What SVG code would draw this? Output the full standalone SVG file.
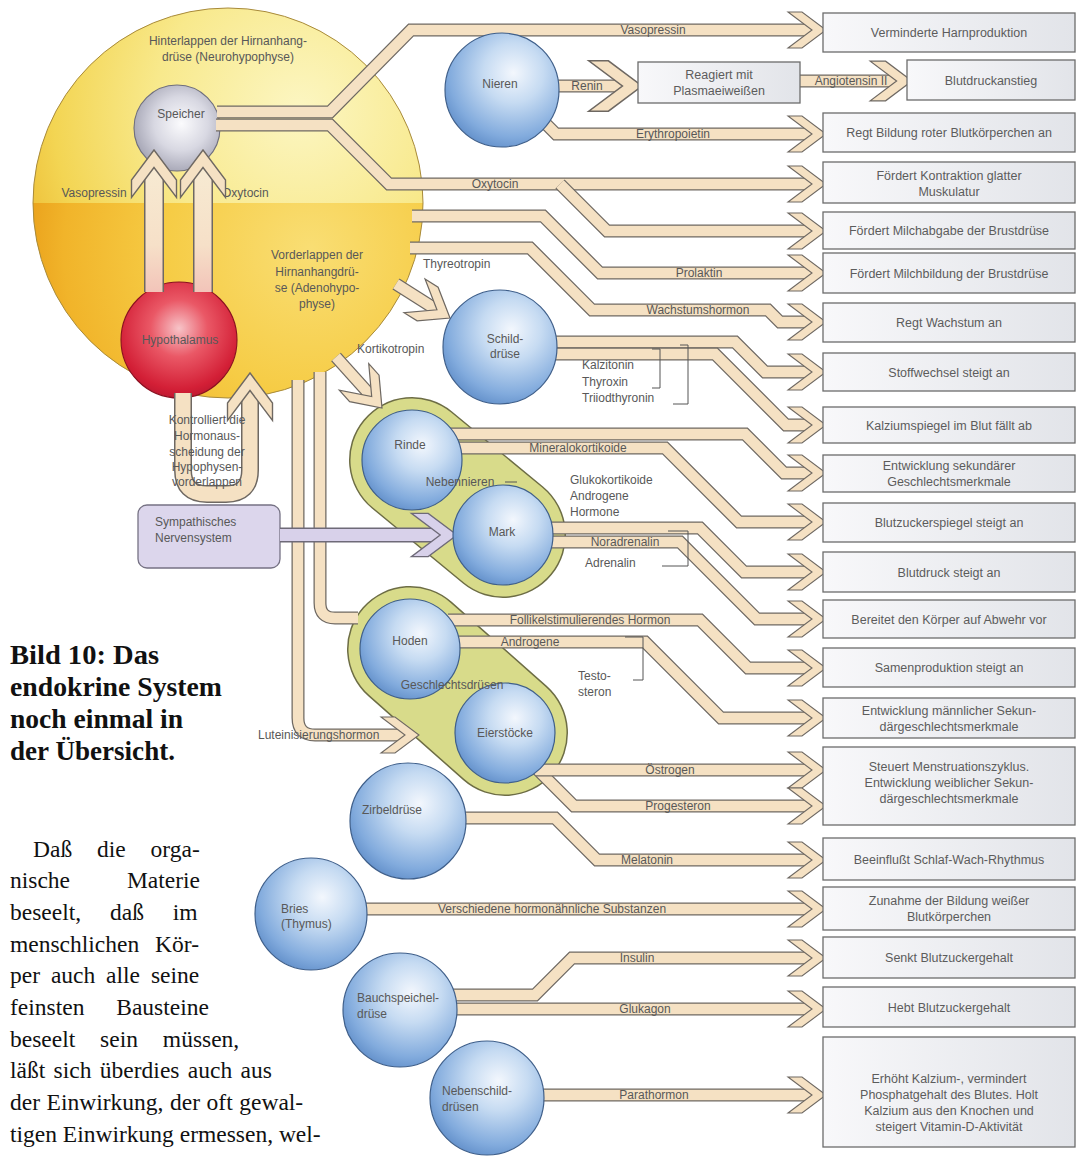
<svg xmlns="http://www.w3.org/2000/svg" width="1087" height="1158" viewBox="0 0 1087 1158">
<style>
.bo{fill:none;stroke:#6e6862;stroke-width:13}
.bi{fill:none;stroke:#f5e1c3;stroke-width:10.5}
.bo2{fill:none;stroke:#6e6862;stroke-width:20}
.bi2{fill:none;stroke:url(#gpink);stroke-width:17}
.bo3{fill:none;stroke:#6e6862;stroke-width:18}
.bi3{fill:none;stroke:#f5e1c3;stroke-width:15}
.ch{fill:#f5e1c3;stroke:#6e6862;stroke-width:1.1}
.chl{fill:#d8d1ea;stroke:#6e6a78;stroke-width:1.1}
.lb{font-family:"Liberation Sans",Arial,sans-serif;font-size:12px;fill:#585858}
.mid{text-anchor:middle}
.bt{font-family:"Liberation Sans",Arial,sans-serif;font-size:12.5px;fill:#5c5c5c;text-anchor:middle}
.box{fill:url(#gbox);stroke:#6c6c6c;stroke-width:1.3}
.sph{fill:url(#gblue);stroke:#3f5f8a;stroke-width:1.2}
.br{fill:none;stroke:#555;stroke-width:1}
.title{font-family:"Liberation Serif","Times New Roman",serif;font-weight:bold;font-size:27px;fill:#111}
.body{font-family:"Liberation Serif","Times New Roman",serif;font-size:23.5px;fill:#111}
</style>
<defs>
<radialGradient id="gyTop" gradientUnits="userSpaceOnUse" cx="300" cy="110" r="290">
<stop offset="0" stop-color="#fcf6c2"/><stop offset="0.5" stop-color="#f8e98c"/><stop offset="0.85" stop-color="#f3d553"/><stop offset="1" stop-color="#eec13a"/>
</radialGradient>
<radialGradient id="gyBot" gradientUnits="userSpaceOnUse" cx="310" cy="250" r="290">
<stop offset="0" stop-color="#f9de74"/><stop offset="0.5" stop-color="#f6cc45"/><stop offset="0.85" stop-color="#f1b42a"/><stop offset="1" stop-color="#e99f1a"/>
</radialGradient>
<radialGradient id="gblue" cx="0.6" cy="0.35" r="0.75">
<stop offset="0" stop-color="#f3f7fd"/><stop offset="0.35" stop-color="#c6dbf2"/><stop offset="0.75" stop-color="#82abdd"/><stop offset="1" stop-color="#5584c2"/>
</radialGradient>
<radialGradient id="ggrey" cx="0.55" cy="0.45" r="0.7">
<stop offset="0" stop-color="#fbfbfd"/><stop offset="0.45" stop-color="#d8d8e2"/><stop offset="1" stop-color="#8e8ea0"/>
</radialGradient>
<radialGradient id="gred" cx="0.5" cy="0.4" r="0.7">
<stop offset="0" stop-color="#f7c4c8"/><stop offset="0.35" stop-color="#ea5866"/><stop offset="0.75" stop-color="#d31f36"/><stop offset="1" stop-color="#a8102a"/>
</radialGradient>
<linearGradient id="gbox" x1="0" y1="0" x2="1" y2="0">
<stop offset="0" stop-color="#f8f8fa"/><stop offset="1" stop-color="#e2e4e9"/>
</linearGradient>
<linearGradient id="gpink" gradientUnits="userSpaceOnUse" x1="0" y1="170" x2="0" y2="295">
<stop offset="0" stop-color="#f7ead2"/><stop offset="0.6" stop-color="#f6e0c8"/><stop offset="1" stop-color="#f2c2b8"/>
</linearGradient>
<path id="chev" d="M-38,-18 L-24,-18 L0,0 L-24,18 L-38,18 L-14,0 Z"/>
<path id="p-vaso" d="M217,112 H330 L411,30 H812"/>
<path id="p-oxy" d="M216,125 H330 L389,184 H812"/>
<path id="p-oxy2" d="M560,184 L607,231 H812"/>
<path id="p-renin" d="M552,86 H624"/>
<path id="p-angio" d="M800,81 H897"/>
<path id="p-ery" d="M540,118 L556,134 H812"/>
<path id="p-prl" d="M412,216 H543 L600,273 H812"/>
<path id="p-gh" d="M410,248 H530 L592,310 H768 L780,322 H812"/>
<path id="p-tsh" d="M396,284 L437,310"/>
<path id="p-acth" d="M336,357 L372,397"/>
<path id="p-lh" d="M298,380 V718 Q298,735 315,735 H404"/>
<path id="p-fsh1" d="M320,372 V603 Q320,618 335,618 H358"/>
<path id="p-fsh2" d="M448,620 H700 L748,668 H812"/>
<path id="p-andro" d="M450,642 H645 L721,718 H812"/>
<path id="p-ts1" d="M550,342 H735 L765,372 H812"/>
<path id="p-ts2" d="M550,354 H715 L786,425 H812"/>
<path id="p-r1" d="M450,434 H745 L784,473 H812"/>
<path id="p-r2" d="M452,448 H665 L739,522 H812"/>
<path id="p-m1" d="M545,528 H700 L744,572 H812"/>
<path id="p-m2" d="M545,542 H680 L757,619 H812"/>
<path id="p-prog" d="M530,762 L574,806 H812"/>
<path id="p-oest" d="M536,770 H812"/>
<path id="p-mel" d="M455,818 H555 L597,860 H812"/>
<path id="p-bries" d="M355,909 H812"/>
<path id="p-ins" d="M448,995 H535 L572,958 H812"/>
<path id="p-glu" d="M450,1009 H812"/>
<path id="p-pth" d="M535,1095 H812"/>
<path id="p-loop" d="M183,393 V470 Q183,494 207,494 H226 Q250,494 250,470 V391"/>
<path id="p-up1" d="M154,292 V168"/>
<path id="p-up2" d="M203,292 V168"/>
</defs>

<rect x="0" y="0" width="1087" height="1158" fill="#ffffff"/>

<g id="hypophyse">
<path d="M33,203 A195,195 0 0 1 423,203 Z" fill="url(#gyTop)"/>
<path d="M33,203 A195,195 0 0 0 423,203 Z" fill="url(#gyBot)"/>
<circle cx="228" cy="203" r="195" fill="none" stroke="#a88a3a" stroke-width="1"/>
<text class="lb mid" x="228" y="45">Hinterlappen der Hirnanhang-</text>
<text class="lb mid" x="228" y="61">drüse (Neurohypophyse)</text>
<text class="lb mid" x="317" y="259">Vorderlappen der</text>
<text class="lb mid" x="317" y="276">Hirnanhangdrü-</text>
<text class="lb mid" x="317" y="292">se (Adenohypo-</text>
<text class="lb mid" x="317" y="308">physe)</text>
<text class="lb mid" x="94" y="197">Vasopressin</text>
<text class="lb" x="222" y="197">Oxytocin</text>
</g>

<g id="speicher">
<circle cx="177" cy="128" r="43" fill="url(#ggrey)" stroke="#6e6e7e" stroke-width="1.1"/>
<text class="lb mid" x="181" y="118">Speicher</text>
</g>

<g id="hypothalamus">
<circle cx="179" cy="340" r="58" fill="url(#gred)" stroke="#8a1020" stroke-width="1.1"/>
<text class="lb mid" x="180" y="344">Hypothalamus</text>
</g>

<g id="nebennieren-kapsel">
<line x1="412" y1="460" x2="503" y2="535" stroke="#6d6d45" stroke-width="126" stroke-linecap="round"/>
<line x1="412" y1="460" x2="503" y2="535" stroke="#d8db8a" stroke-width="123" stroke-linecap="round"/>
</g>

<g id="geschlechtsdruesen-kapsel">
<line x1="410" y1="649" x2="505" y2="733" stroke="#6d6d45" stroke-width="126" stroke-linecap="round"/>
<line x1="410" y1="649" x2="505" y2="733" stroke="#d8db8a" stroke-width="123" stroke-linecap="round"/>
</g>

<g id="sympathikus">
<rect x="138" y="505" width="142" height="63" rx="9" fill="#dcd6ec" stroke="#767284" stroke-width="1.3"/>
<text class="lb" x="155" y="526">Sympathisches</text>
<text class="lb" x="155" y="542">Nervensystem</text>
</g>

<g id="connectors">
<use href="#p-vaso" class="bo"/><use href="#p-vaso" class="bi"/>
<use href="#p-oxy" class="bo"/><use href="#p-oxy" class="bi"/>
<use href="#p-oxy2" class="bo"/><use href="#p-oxy2" class="bi"/>
<use href="#p-renin" class="bo"/><use href="#p-renin" class="bi"/>
<use href="#p-angio" class="bo"/><use href="#p-angio" class="bi"/>
<use href="#p-ery" class="bo"/><use href="#p-ery" class="bi"/>
<use href="#p-prl" class="bo"/><use href="#p-prl" class="bi"/>
<use href="#p-gh" class="bo"/><use href="#p-gh" class="bi"/>
<use href="#p-tsh" class="bo"/><use href="#p-tsh" class="bi"/>
<use href="#p-acth" class="bo"/><use href="#p-acth" class="bi"/>
<use href="#p-lh" class="bo"/><use href="#p-lh" class="bi"/>
<use href="#p-fsh1" class="bo"/><use href="#p-fsh1" class="bi"/>
<use href="#p-ts1" class="bo"/><use href="#p-ts1" class="bi"/>
<use href="#p-ts2" class="bo"/><use href="#p-ts2" class="bi"/>
<use href="#p-r1" class="bo"/><use href="#p-r1" class="bi"/>
<use href="#p-r2" class="bo"/><use href="#p-r2" class="bi"/>
<use href="#p-m1" class="bo"/><use href="#p-m1" class="bi"/>
<use href="#p-m2" class="bo"/><use href="#p-m2" class="bi"/>
<use href="#p-fsh2" class="bo"/><use href="#p-fsh2" class="bi"/>
<use href="#p-andro" class="bo"/><use href="#p-andro" class="bi"/>
<use href="#p-prog" class="bo"/><use href="#p-prog" class="bi"/>
<use href="#p-oest" class="bo"/><use href="#p-oest" class="bi"/>
<use href="#p-mel" class="bo"/><use href="#p-mel" class="bi"/>
<use href="#p-bries" class="bo"/><use href="#p-bries" class="bi"/>
<use href="#p-ins" class="bo"/><use href="#p-ins" class="bi"/>
<use href="#p-glu" class="bo"/><use href="#p-glu" class="bi"/>
<use href="#p-pth" class="bo"/><use href="#p-pth" class="bi"/>
<use href="#p-loop" class="bo3"/><use href="#p-loop" class="bi3"/>
<use href="#p-up1" class="bo2"/><use href="#p-up1" class="bi2"/>
<use href="#p-up2" class="bo2"/><use href="#p-up2" class="bi2"/>
<path d="M280,535 H441" fill="none" stroke="#6e6a78" stroke-width="15"/>
<path d="M280,535 H441" fill="none" stroke="#d8d1ea" stroke-width="12"/>

<use href="#chev" class="ch" transform="translate(826,30)"/>
<use href="#chev" class="ch" transform="translate(826,134)"/>
<use href="#chev" class="ch" transform="translate(826,184)"/>
<use href="#chev" class="ch" transform="translate(826,231)"/>
<use href="#chev" class="ch" transform="translate(826,273)"/>
<use href="#chev" class="ch" transform="translate(826,322)"/>
<use href="#chev" class="ch" transform="translate(826,372)"/>
<use href="#chev" class="ch" transform="translate(826,425)"/>
<use href="#chev" class="ch" transform="translate(826,473)"/>
<use href="#chev" class="ch" transform="translate(826,522)"/>
<use href="#chev" class="ch" transform="translate(826,572)"/>
<use href="#chev" class="ch" transform="translate(826,619)"/>
<use href="#chev" class="ch" transform="translate(826,668)"/>
<use href="#chev" class="ch" transform="translate(826,718)"/>
<use href="#chev" class="ch" transform="translate(826,770)"/>
<use href="#chev" class="ch" transform="translate(826,806)"/>
<use href="#chev" class="ch" transform="translate(826,860)"/>
<use href="#chev" class="ch" transform="translate(826,909)"/>
<use href="#chev" class="ch" transform="translate(826,958)"/>
<use href="#chev" class="ch" transform="translate(826,1009)"/>
<use href="#chev" class="ch" transform="translate(826,1095)"/>
<use href="#chev" class="ch" transform="translate(642,86) scale(1.4)"/>
<use href="#chev" class="ch" transform="translate(912,81) scale(1.1)"/>
<use href="#chev" class="ch" transform="translate(450,318) rotate(32) scale(1.1)"/>
<use href="#chev" class="ch" transform="translate(382,408) rotate(48) scale(1.1)"/>
<use href="#chev" class="ch" transform="translate(419,735)"/>
<use href="#chev" class="chl" transform="translate(457,535) scale(1.2)"/>
<use href="#chev" class="ch" transform="translate(250,373) rotate(-90) scale(1.25)"/>
<use href="#chev" class="ch" transform="translate(154,150) rotate(-90) scale(1.25)"/>
<use href="#chev" class="ch" transform="translate(203,150) rotate(-90) scale(1.25)"/>

<path class="br" d="M652,349 H660 V388 H652"/>
<path class="br" d="M680,345 H688 V404 H673"/>
<path class="br" d="M668,531 H688 V566 H662"/>
<path class="br" d="M625,637 H643 V680 H633"/>

<text class="lb mid" x="653" y="34">Vasopressin</text>
<text class="lb mid" x="587" y="90">Renin</text>
<text class="lb mid" x="851" y="85">Angiotensin II</text>
<text class="lb mid" x="673" y="138">Erythropoietin</text>
<text class="lb mid" x="495" y="188">Oxytocin</text>
<text class="lb mid" x="699" y="277">Prolaktin</text>
<text class="lb mid" x="698" y="314">Wachstumshormon</text>
<text class="lb" x="423" y="268">Thyreotropin</text>
<text class="lb" x="357" y="353">Kortikotropin</text>
<text class="lb" x="582" y="369">Kalzitonin</text>
<text class="lb" x="582" y="386">Thyroxin</text>
<text class="lb" x="582" y="402">Triiodthyronin</text>
<text class="lb mid" x="578" y="452">Mineralokortikoide</text>
<text class="lb" x="570" y="484">Glukokortikoide</text>
<text class="lb" x="570" y="500">Androgene</text>
<text class="lb" x="570" y="516">Hormone</text>
<text class="lb mid" x="625" y="546">Noradrenalin</text>
<text class="lb" x="585" y="567">Adrenalin</text>
<text class="lb mid" x="590" y="624">Follikelstimulierendes Hormon</text>
<text class="lb mid" x="530" y="646">Androgene</text>
<text class="lb" x="578" y="680">Testo-</text>
<text class="lb" x="578" y="696">steron</text>
<text class="lb" x="258" y="739">Luteinisierungshormon</text>
<text class="lb mid" x="670" y="774">Östrogen</text>
<text class="lb mid" x="678" y="810">Progesteron</text>
<text class="lb mid" x="647" y="864">Melatonin</text>
<text class="lb mid" x="552" y="913">Verschiedene hormonähnliche Substanzen</text>
<text class="lb mid" x="637" y="962">Insulin</text>
<text class="lb mid" x="645" y="1013">Glukagon</text>
<text class="lb mid" x="654" y="1099">Parathormon</text>
<text class="lb mid" x="207" y="424">Kontrolliert die</text>
<text class="lb mid" x="207" y="440">Hormonaus-</text>
<text class="lb mid" x="207" y="456">scheidung der</text>
<text class="lb mid" x="207" y="471">Hypophysen-</text>
<text class="lb mid" x="207" y="486">vorderlappen</text>
</g>

<g id="nieren"><circle class="sph" cx="502" cy="90" r="57"/><text class="lb mid" x="500" y="88">Nieren</text></g>
<g id="schilddruese"><circle class="sph" cx="500" cy="347" r="57"/><text class="lb mid" x="505" y="343">Schild-</text><text class="lb mid" x="505" y="358">drüse</text></g>
<g id="rinde"><circle class="sph" cx="412" cy="460" r="50"/><text class="lb mid" x="410" y="449">Rinde</text></g>
<g id="mark"><circle class="sph" cx="503" cy="535" r="50"/><text class="lb mid" x="502" y="536">Mark</text></g>
<g id="hoden"><circle class="sph" cx="410" cy="649" r="50"/><text class="lb mid" x="410" y="645">Hoden</text></g>
<g id="eierstoecke"><circle class="sph" cx="505" cy="733" r="50"/><text class="lb mid" x="505" y="737">Eierstöcke</text></g>
<g id="zirbeldruese"><circle class="sph" cx="408" cy="821" r="58"/><text class="lb mid" x="392" y="814">Zirbeldrüse</text></g>
<g id="bries"><circle class="sph" cx="311" cy="914" r="56"/><text class="lb" x="281" y="913">Bries</text><text class="lb" x="281" y="928">(Thymus)</text></g>
<g id="bauchspeicheldruese"><circle class="sph" cx="400" cy="1010" r="57"/><text class="lb" x="357" y="1002">Bauchspeichel-</text><text class="lb" x="357" y="1018">drüse</text></g>
<g id="nebenschilddruesen"><circle class="sph" cx="487" cy="1098" r="57"/><text class="lb" x="442" y="1095">Nebenschild-</text><text class="lb" x="442" y="1111">drüsen</text></g>

<g id="kapsel-labels">
<text class="lb mid" x="460" y="486">Nebennieren</text>
<line class="br" x1="505" y1="482" x2="517" y2="482"/>
<text class="lb mid" x="452" y="689">Geschlechtsdrüsen</text>
</g>

<g id="reagiert"><rect class="box" x="638" y="62" width="162" height="41"/><text class="bt" x="719" y="79">Reagiert mit</text><text class="bt" x="719" y="95">Plasmaeiweißen</text></g>
<g id="e1"><rect class="box" x="823" y="13" width="252" height="39"/><text class="bt" x="949" y="37">Verminderte Harnproduktion</text></g>
<g id="e2"><rect class="box" x="907" y="60" width="168" height="40"/><text class="bt" x="991" y="85">Blutdruckanstieg</text></g>
<g id="e3"><rect class="box" x="823" y="113" width="252" height="39"/><text class="bt" x="949" y="137">Regt Bildung roter Blutkörperchen an</text></g>
<g id="e4"><rect class="box" x="823" y="162" width="252" height="41"/><text class="bt" x="949" y="180">Fördert Kontraktion glatter</text><text class="bt" x="949" y="196">Muskulatur</text></g>
<g id="e5"><rect class="box" x="823" y="212" width="252" height="37"/><text class="bt" x="949" y="235">Fördert Milchabgabe der Brustdrüse</text></g>
<g id="e6"><rect class="box" x="823" y="253" width="252" height="40"/><text class="bt" x="949" y="278">Fördert Milchbildung der Brustdrüse</text></g>
<g id="e7"><rect class="box" x="823" y="303" width="252" height="39"/><text class="bt" x="949" y="327">Regt Wachstum an</text></g>
<g id="e8"><rect class="box" x="823" y="353" width="252" height="38"/><text class="bt" x="949" y="377">Stoffwechsel steigt an</text></g>
<g id="e9"><rect class="box" x="823" y="407" width="252" height="36"/><text class="bt" x="949" y="430">Kalziumspiegel im Blut fällt ab</text></g>
<g id="e10"><rect class="box" x="823" y="455" width="252" height="37"/><text class="bt" x="949" y="470">Entwicklung sekundärer</text><text class="bt" x="949" y="486">Geschlechtsmerkmale</text></g>
<g id="e11"><rect class="box" x="823" y="503" width="252" height="39"/><text class="bt" x="949" y="527">Blutzuckerspiegel steigt an</text></g>
<g id="e12"><rect class="box" x="823" y="552" width="252" height="40"/><text class="bt" x="949" y="577">Blutdruck steigt an</text></g>
<g id="e13"><rect class="box" x="823" y="600" width="252" height="38"/><text class="bt" x="949" y="624">Bereitet den Körper auf Abwehr vor</text></g>
<g id="e14"><rect class="box" x="823" y="648" width="252" height="39"/><text class="bt" x="949" y="672">Samenproduktion steigt an</text></g>
<g id="e15"><rect class="box" x="823" y="698" width="252" height="40"/><text class="bt" x="949" y="715">Entwicklung männlicher Sekun-</text><text class="bt" x="949" y="731">därgeschlechtsmerkmale</text></g>
<g id="e16"><rect class="box" x="823" y="747" width="252" height="78"/><text class="bt" x="949" y="771">Steuert Menstruationszyklus.</text><text class="bt" x="949" y="787">Entwicklung weiblicher Sekun-</text><text class="bt" x="949" y="803">därgeschlechtsmerkmale</text></g>
<g id="e17"><rect class="box" x="823" y="838" width="252" height="42"/><text class="bt" x="949" y="864">Beeinflußt Schlaf-Wach-Rhythmus</text></g>
<g id="e18"><rect class="box" x="823" y="887" width="252" height="43"/><text class="bt" x="949" y="905">Zunahme der Bildung weißer</text><text class="bt" x="949" y="921">Blutkörperchen</text></g>
<g id="e19"><rect class="box" x="823" y="937" width="252" height="41"/><text class="bt" x="949" y="962">Senkt Blutzuckergehalt</text></g>
<g id="e20"><rect class="box" x="823" y="987" width="252" height="40"/><text class="bt" x="949" y="1012">Hebt Blutzuckergehalt</text></g>
<g id="e21"><rect class="box" x="823" y="1037" width="252" height="110"/><text class="bt" x="949" y="1083">Erhöht Kalzium-, vermindert</text><text class="bt" x="949" y="1099">Phosphatgehalt des Blutes. Holt</text><text class="bt" x="949" y="1115">Kalzium aus den Knochen und</text><text class="bt" x="949" y="1131">steigert Vitamin-D-Aktivität</text></g>

<g id="caption">
<text class="title" x="10" y="664" textLength="149" lengthAdjust="spacingAndGlyphs">Bild 10: Das</text>
<text class="title" x="10" y="696" textLength="212" lengthAdjust="spacingAndGlyphs">endokrine System</text>
<text class="title" x="10" y="728" textLength="173" lengthAdjust="spacingAndGlyphs">noch einmal in</text>
<text class="title" x="10" y="760" textLength="165" lengthAdjust="spacingAndGlyphs">der Übersicht.</text>
</g>
<g id="fliesstext">
<text class="body" x="33" y="857" word-spacing="19">Daß die orga-</text>
<text class="body" x="10" y="888" word-spacing="51">nische Materie</text>
<text class="body" x="10" y="920" word-spacing="23">beseelt, daß im</text>
<text class="body" x="10" y="952" word-spacing="10">menschlichen Kör-</text>
<text class="body" x="10" y="983" word-spacing="5">per auch alle seine</text>
<text class="body" x="10" y="1015" word-spacing="26">feinsten Bausteine</text>
<text class="body" x="10" y="1047" word-spacing="19">beseelt sein müssen,</text>
<text class="body" x="10" y="1078" word-spacing="2.5">läßt sich überdies auch aus</text>
<text class="body" x="10" y="1110" word-spacing="0.7">der Einwirkung, der oft gewal-</text>
<text class="body" x="10" y="1142">tigen Einwirkung ermessen, wel-</text>
</g>
</svg>
